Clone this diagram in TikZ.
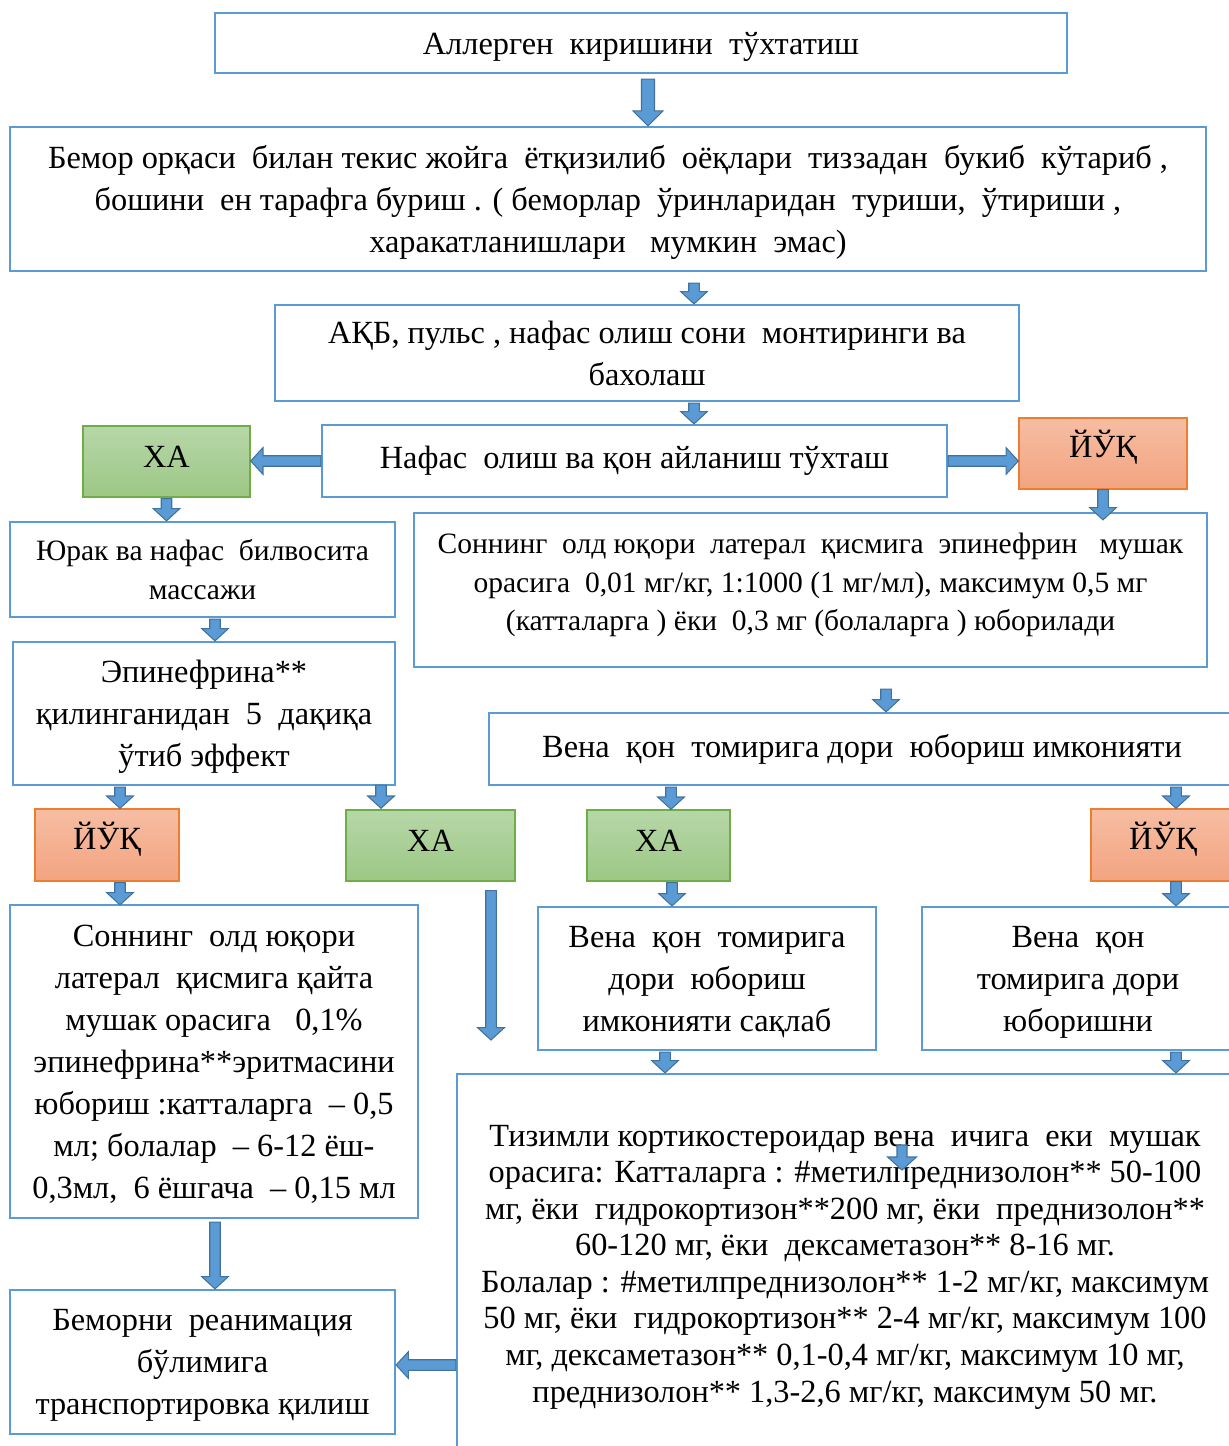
\documentclass[tikz,border=0pt]{standalone}
\usepackage{fontspec}
\setmainfont{Liberation Serif}
\usetikzlibrary{calc}
\definecolor{boxblue}{HTML}{5B9BD5}
\definecolor{arrowline}{HTML}{41719C}
\definecolor{yesline}{HTML}{70AD47}
\definecolor{yestop}{HTML}{B7D7A8}
\definecolor{yesbot}{HTML}{9CC785}
\definecolor{noline}{HTML}{ED7D31}
\definecolor{notop}{HTML}{F6BDA3}
\definecolor{nobot}{HTML}{F3A47F}
\newcommand{\shaftw}{3pt}
\newcommand{\headw}{7.6pt}
\newcommand{\headl}{7pt}
\newcommand{\arrowsize}[3]{\def\shaftw{#1}\def\headw{#2}\def\headl{#3}}
\newcommand{\barrow}[2]{
	\coordinate (ba) at (#1);
	\coordinate (bb) at (#2);
	\coordinate (bh) at ($(bb)!\headl!(ba)$);
	\draw [blockarrow] ($(ba)!\shaftw!90:(bb)$) -- ($(bh)!\shaftw!90:(bb)$) -- ($(bh)!\headw!90:(bb)$) -- (bb) -- ($(bh)!\headw!-90:(bb)$) -- ($(bh)!\shaftw!-90:(bb)$) -- ($(ba)!\shaftw!-90:(bb)$) -- cycle;
	}
\begin{document}
\begin{tikzpicture}[
      x=0.02cm, y=-0.02cm, % one unit is one pixel of the sheet
      box/.style={draw=boxblue, line width=1.3pt, fill=white, align=center, inner sep=0pt, font=\fontsize{18.4}{23.9}\selectfont},
      lines/.style={text depth=0pt},
      small/.style={font=\fontsize{18.4}{20.8}\selectfont},
      smaller/.style={font=\fontsize{16.8}{22}\selectfont},
      yesbox/.style={draw=yesline, line width=0.8pt, top color=yestop, bottom color=yesbot, inner sep=0pt, text depth=5pt, font=\fontsize{18.4}{20}\selectfont},
      nobox/.style={yesbox, draw=noline, top color=notop, bottom color=nobot, text depth=10.5pt},
      blockarrow/.style={fill=boxblue, draw=arrowline, line width=0.6pt, line join=miter}
    ]
    \useasboundingbox (0,0) rectangle (1229,1446);
    % Draw the main column
    \node[box, lines, minimum width=17.04cm, minimum height=1.2cm] (stop) at (641,43) {Аллерген~ киришини~ тўхтатиш};
    \node[box, lines, minimum width=23.92cm, minimum height=2.88cm] (lay) at (608,199) {Бемор орқаси~ билан текис жойга~ ётқизилиб~ оёқлари~ тиззадан~ букиб~ кўтариб ,\\ бошини~ ен тарафга буриш . ( беморлар~ ўринларидан~ туриши,~ ўтириши ,\\ харакатланишлари~~ мумкин~ эмас)};
    \node[box, lines, minimum width=14.88cm, minimum height=1.92cm] (watch) at (647,353) {АҚБ, пульс , нафас олиш сони~ монтиринги ва\\ бахолаш};
    \node[box, minimum width=12.5cm, minimum height=1.44cm] (arrest) at (634.5,461) {Нафас~ олиш ва қон айланиш тўхташ};
    \node[yesbox, minimum width=3.34cm, minimum height=1.42cm] (yesA) at (166.5,461.5) {ХА};
    \node[nobox, minimum width=3.36cm, minimum height=1.42cm] (noA) at (1103,453.5) {ЙЎҚ};
    % Left branch
    \node[box, lines, smaller, minimum width=7.7cm, minimum height=1.9cm] (cpr) at (202.5,569.5) {Юрак ва нафас~ билвосита\\ массажи};
    \node[box, lines, minimum width=7.64cm, minimum height=2.86cm] (wait) at (204,713.5) {Эпинефрина**\\ қилинганидан~ 5~ дақиқа\\ ўтиб эффект};
    \node[nobox, minimum width=2.88cm, minimum height=1.44cm] (noB) at (107,845) {ЙЎҚ};
    \node[yesbox, minimum width=3.38cm, minimum height=1.42cm] (yesB) at (430.5,845.5) {ХА};
    \node[box, lines, minimum width=8.16cm, minimum height=6.26cm] (repeat) at (214,1061.5) {Соннинг~ олд юқори\\ латерал~ қисмига қайта\\ мушак орасига~~ 0,1\%\\ эпинефрина**эритмасини\\ юбориш :катталарга~ -- 0,5\\ мл; болалар~ -- 6-12 ёш-\\ 0,3мл,~ 6 ёшгача~ -- 0,15 мл};
    \node[box, lines, minimum width=7.7cm, minimum height=2.88cm] (icu) at (202.5,1362) {Беморни~ реанимация\\ бўлимига\\ транспортировка қилиш};
    % Right branch
    \node[box, smaller, text depth=9pt, minimum width=15.86cm, minimum height=3.08cm] (epi) at (810.5,590) {Соннинг~ олд юқори~ латерал~ қисмига~ эпинефрин~~ мушак\\ орасига~ 0,01 мг/кг, 1:1000 (1 мг/мл), максимум 0,5 мг\\ (катталарга ) ёки~ 0,3 мг (болаларга ) юборилади};
    \node[box, minimum width=14.92cm, minimum height=1.44cm] (vein) at (862,749) {Вена~ қон~ томирига дори~ юбориш имконияти};
    \node[yesbox, minimum width=2.86cm, minimum height=1.42cm] (yesC) at (658.5,845.5) {ХА};
    \node[nobox, minimum width=2.88cm, minimum height=1.44cm] (noC) at (1163,845) {ЙЎҚ};
    \node[box, lines, minimum width=6.76cm, minimum height=2.86cm] (keep) at (707,978.5) {Вена~ қон~ томирига\\ дори~ юбориш\\ имконияти сақлаб};
    \node[box, lines, minimum width=6.24cm, minimum height=2.86cm] (noway) at (1078,978.5) {Вена~ қон\\ томирига дори\\ юборишни};
    \node[box, small, minimum width=15.52cm, minimum height=7.72cm] (steroid) at (845,1267) {Тизимли кортикостероидар вена~ ичига~ еки~ мушак\\ орасига: Катталарга : \#метилпреднизолон** 50-100\\ мг, ёки~ гидрокортизон**200 мг, ёки~ преднизолон**\\ 60-120 мг, ёки~ дексаметазон** 8-16 мг.\\ Болалар : \#метилпреднизолон** 1-2 мг/кг, максимум\\ 50 мг, ёки~ гидрокортизон** 2-4 мг/кг, максимум 100\\ мг, дексаметазон** 0,1-0,4 мг/кг, максимум 10 мг,\\ преднизолон** 1,3-2,6 мг/кг, максимум 50 мг.};
    \coordinate (yesBend) at (491,1040);
    \coordinate (straytop) at (902,1145);
    \coordinate (straytip) at (902,1170);
    % Draw the block arrows
    \arrowsize{3.7pt}{8.5pt}{8.5pt}
    \barrow{$(stop.south)+(7,5)$}{$(lay.north)+(40,0)$}
    \arrowsize{3pt}{7.6pt}{7pt}
    \barrow{$(lay.south)+(86,11)$}{$(watch.north)+(47,0)$}
    \barrow{$(watch.south)+(47,1)$}{$(arrest.north)+(59.5,0)$}
    \barrow{arrest.west}{yesA.east |- arrest.west}
    \barrow{arrest.east}{noA.west |- arrest.east}
    \barrow{$(yesA.south)+(0,1)$}{yesA.south |- cpr.north}
    \barrow{noA.south}{$(noA.south |- epi.north)+(0,8)$}
    \barrow{$(cpr.south)+(12.5,1)$}{$(wait.north)+(11,0)$}
    \barrow{$(epi.south)+(75.5,21)$}{$(vein.north)+(24,0)$}
    \barrow{$(wait.south)+(-84,1)$}{$(noB.north)+(13,0)$}
    \barrow{$(wait.south)+(177,-1)$}{$(yesB.north)+(-49.5,-1)$}
    \barrow{$(vein.south)+(-191,1)$}{$(yesC.north)+(12.5,0)$}
    \barrow{$(vein.south)+(314,1)$}{$(noC.north)+(13,0)$}
    \barrow{$(noB.south)+(13,1)$}{$(repeat.north)+(-94,1)$}
    \barrow{$(yesB.south)+(60.5,9)$}{yesBend}
    \barrow{$(yesC.south)+(13.5,1)$}{$(keep.north)+(-35,0)$}
    \barrow{$(noC.south)+(13,0)$}{$(noway.north)+(98,0)$}
    \barrow{$(keep.south)+(-42,1)$}{$(steroid.north)+(-180,0)$}
    \barrow{$(noway.south)+(98,1)$}{$(steroid.north)+(331,0)$}
    \barrow{$(repeat.south)+(1,3)$}{$(icu.north)+(12.5,0)$}
    \barrow{$(steroid.west)+(0,98)$}{$(icu.east)+(0,3)$}
    \arrowsize{2.85pt}{8.2pt}{7.4pt}
    \barrow{straytop}{straytip}
\end{tikzpicture}
\end{document}
